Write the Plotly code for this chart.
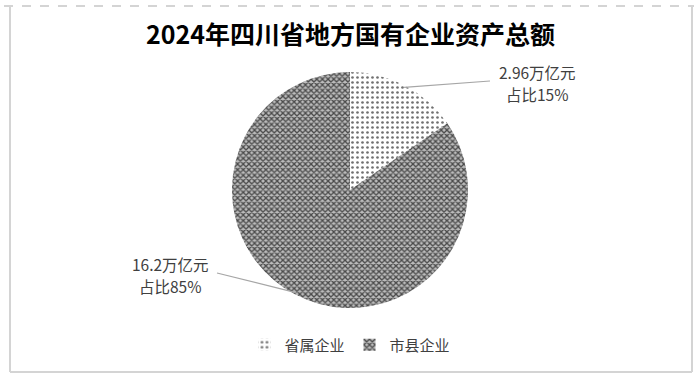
import math
import plotly.graph_objects as go

title = "2024年四川省地方国有企业资产总额"
categories = ["省属企业", "市县企业"]
values = [2.96, 16.2]
label_line1 = ["2.96万亿元", "16.2万亿元"]
label_line2 = ["占比15%", "占比85%"]

W, H = 700, 379
cx, cy, R = 350, 190, 118

fig = go.Figure()
fig.add_trace(go.Pie(
    labels=categories,
    values=values,
    sort=False,
    direction="clockwise",
    rotation=0,
    textinfo="none",
    hoverinfo="label+value",
    marker=dict(
        colors=["#ffffff", "#9a9a9a"],
        line=dict(width=0),
        pattern=dict(
            shape=[".", "x"],
            fgcolor=["#707070", "#4a4a4a"],
            bgcolor=["#ffffff", "#bcbcbc"],
            size=[5, 4],
            solidity=[0.22, 0.55],
        ),
    ),
    domain=dict(x=[(cx - R) / W, (cx + R) / W], y=[1 - (cy + R) / H, 1 - (cy - R) / H]),
))

total = sum(values)
line_end = [(490, 81), (217, 273)]
text_pos = [(537, 72), (170, 264)]
cum = 0
shapes = []
annotations = []
lab_font = dict(family="Noto Sans CJK SC", size=15.5, color="#404040")
for i, v in enumerate(values):
    mid = (cum + v / 2) / total * 2 * math.pi
    cum += v
    px = cx + (R - 2) * math.sin(mid)
    py = cy - (R - 2) * math.cos(mid)
    ex, ey = line_end[i]
    shapes.append(dict(type="line", xref="paper", yref="paper",
                       x0=px / W, y0=1 - py / H, x1=ex / W, y1=1 - ey / H,
                       line=dict(color="#a6a6a6", width=1.2)))
    tx, ty = text_pos[i]
    for j, t in enumerate([label_line1[i], label_line2[i]]):
        annotations.append(dict(x=tx / W, y=1 - (ty + 22 * j) / H, xref="paper", yref="paper",
                                text=t, showarrow=False, font=lab_font, borderpad=0,
                                xanchor="center", yanchor="middle", align="center"))

grey = "#d4d4d4"
shapes += [
    dict(type="line", xref="paper", yref="paper", x0=4 / W, x1=694 / W, y0=1 - 6 / H, y1=1 - 6 / H,
         line=dict(color=grey, width=2, dash="dash")),
    dict(type="line", xref="paper", yref="paper", x0=10 / W, x1=10 / W, y0=1 - 6 / H, y1=1 - 372 / H,
         line=dict(color=grey, width=2)),
    dict(type="line", xref="paper", yref="paper", x0=692 / W, x1=692 / W, y0=1 - 6 / H, y1=1 - 372 / H,
         line=dict(color=grey, width=2)),
    dict(type="line", xref="paper", yref="paper", x0=10 / W, x1=692 / W, y0=1 - 372 / H, y1=1 - 372 / H,
         line=dict(color=grey, width=2)),
]

annotations.append(dict(x=0.5, y=1 - 33 / H, xref="paper", yref="paper", text="<b>" + title + "</b>",
                        showarrow=False, xanchor="center", yanchor="middle",
                        font=dict(family="Noto Sans CJK SC", size=25, color="#000000")))

fig.update_layout(
    width=W, height=H,
    margin=dict(l=0, r=0, t=0, b=0),
    paper_bgcolor="white",
    plot_bgcolor="white",
    showlegend=True,
    legend=dict(orientation="h", x=0.5, xanchor="center", y=1 - 345 / H, yanchor="middle",
                font=dict(family="Noto Sans CJK SC", size=15, color="#404040"),
                itemwidth=30, traceorder="normal"),
    shapes=shapes,
    annotations=annotations,
)

fig.write_html("out.html", config={"displayModeBar": False},
               post_script="document.body.style.margin='0';")
